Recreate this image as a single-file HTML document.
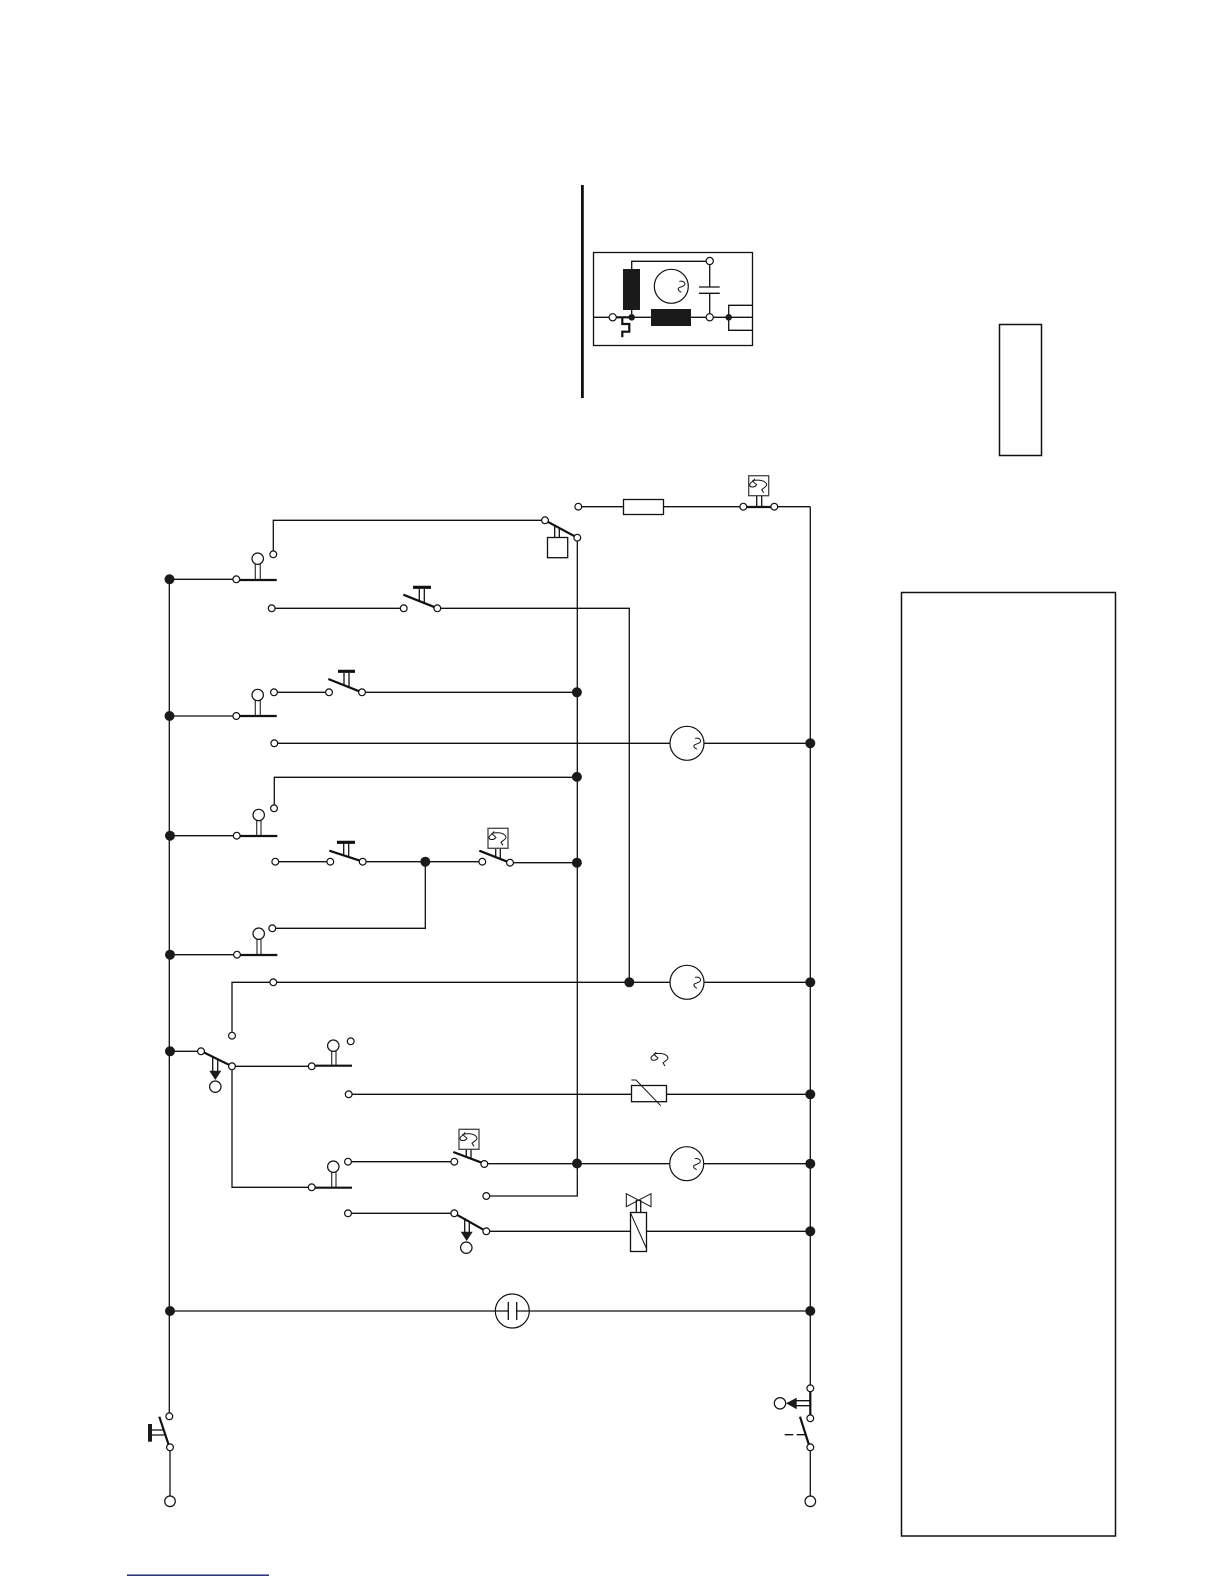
<!DOCTYPE html>
<html>
<head>
<meta charset="utf-8">
<title>Wiring diagram</title>
<style>
html,body{margin:0;padding:0;background:#fff;width:1224px;height:1584px;overflow:hidden}
svg{display:block}
.w{fill:none;stroke:#111;stroke-width:1.3}
.g{fill:none;stroke:#333;stroke-width:1.2}
.t{fill:none;stroke:#111;stroke-width:2.2}
.o{fill:#fff;stroke:#111;stroke-width:1.2}
.d{fill:#1a1a1a;stroke:none}
.k{fill:#1a1a1a;stroke:none}
.s{fill:none;stroke:#111;stroke-width:1}
</style>
</head>
<body>
<svg width="1224" height="1584" viewBox="0 0 1224 1584" xmlns="http://www.w3.org/2000/svg">
<defs>
<path id="sq" d="M8 -5C12 -6 15 -3 13 -1C11 1 6 1 7 3C7 5 9 5 10 6" fill="none" stroke="#111" stroke-width="1"/>
<path id="th" d="M6 3C5 6 1 7 1 9C1 12 6 12 8 9C7 8 5 7 4 5C8 4 14 4 17 7C20 10 15 12 13 14L15 17" fill="none" stroke="#111" stroke-width="1"/>
</defs>

<rect x="999.5" y="324.5" width="42" height="131" fill="none" stroke="#111" stroke-width="1.5"/>
<rect x="901.5" y="592.5" width="214" height="943.5" fill="none" stroke="#111" stroke-width="1.5"/>

<rect x="581" y="185" width="2.8" height="213" fill="#111"/>
<rect x="593.5" y="252.5" width="159" height="93" fill="none" stroke="#111" stroke-width="1.3"/>
<path class="w" d="M593.5 317.3H752.7M631.7 270V261.3H709.7V287M709.7 293.3V317.3M631.7 309V317.3M728.7 317.3V305.3H752.7M728.7 317.3V330.3H752.7"/>
<path class="w" d="M699 287H719.7M699 293.3H719.7"/>
<rect class="k" x="623" y="269" width="17" height="41"/>
<rect class="k" x="651" y="309" width="40" height="17"/>
<circle class="o" cx="671.3" cy="286.3" r="17"/>
<use href="#sq" x="671.3" y="286.3"/>
<path class="t" d="M616.7 317.3H631M622.3 317.3V324H629.3V331.7H622.3V337.3"/>
<circle class="o" cx="709.7" cy="261" r="3.6"/>
<circle class="o" cx="612.7" cy="317.3" r="3.6"/>
<circle class="o" cx="709.7" cy="317.3" r="3.6"/>
<circle class="d" cx="631.7" cy="317.3" r="3.3"/>
<circle class="d" cx="728.7" cy="317.3" r="3.3"/>

<path class="w" d="M169.3 579.3V1416M170 1447V1496M810.3 506.7V1388M810.3 1447V1496M169.3 579.3H236M169.3 716H236M170 835.7H237M170 954.7H237M170 1051.3H201M273.3 554.3V520.3H545M271.7 608.3H403.7M437.3 608.3H629.3V982.3M274 692.3H329M362 692.3H576.7M275 743.3H670M704 743.3H810M577.3 537.7V1196H486.3M274.3 808.3V777.3H576.7M275.3 861.7H330.3M362.7 861.7H482.3M510 862.7H576.7M425.3 861.7V928.3H272.3M232 1035.7V982.3H670M704 982.3H810M232 1066.3H311.7M232 1066.3V1187.3H311.7M348.7 1094.3H631.3M666.7 1094.3H810M348 1161.7H454.3M484.3 1163.7H670M704 1163.7H810M348 1213.3H454.3M486.3 1231.3H630.3M646.3 1231.3H810M170 1311H495M529.5 1311H810M578.3 506.7H623.3M663.7 506.7H743.3M774.3 506.7H810.3"/>

<rect x="623.5" y="499.5" width="40" height="15" fill="#fff" stroke="#111" stroke-width="1.3"/>

<path class="w" d="M756.7 495.7V507M761.7 495.7V507"/>
<rect x="748.7" y="475.7" width="20" height="20" fill="#fff" stroke="#444" stroke-width="1.3"/>
<use href="#th" x="748.7" y="475.7"/>
<path class="t" d="M746 507H771"/>

<path class="w" d="M554.7 526V537.5M559.3 528V537.5"/>
<rect x="547.5" y="537.5" width="20.2" height="20.2" fill="#fff" stroke="#111" stroke-width="1.3"/>
<path class="t" d="M545 520.3L577.3 537.7"/>

<path class="g" d="M255.3 564V580M260.3 564V580"/>
<path class="t" d="M238 580H276.7"/>
<circle class="o" cx="257.7" cy="558.7" r="5.7"/>
<path class="g" d="M255.3 700V716M260.3 700V716"/>
<path class="t" d="M238 716H276.7"/>
<circle class="o" cx="257.7" cy="695" r="5.7"/>
<path class="g" d="M256.7 820.7V836M261 820.7V836"/>
<path class="t" d="M238 836H277.3"/>
<circle class="o" cx="258.7" cy="815" r="5.7"/>
<path class="g" d="M257 939.3V955M261 939.3V955"/>
<path class="t" d="M238 955H277.3"/>
<circle class="o" cx="258.7" cy="933.7" r="5.7"/>
<path class="g" d="M331.7 1051V1066M336 1051V1066"/>
<path class="t" d="M313 1065.7H352"/>
<circle class="o" cx="333.3" cy="1045.7" r="5.7"/>
<path class="g" d="M331.7 1172.3V1187.7M336 1172.3V1187.7"/>
<path class="t" d="M313 1187.7H352"/>
<circle class="o" cx="333.3" cy="1166.7" r="5.7"/>

<path class="w" d="M419.3 589V601M424.3 589V603"/>
<path class="t" d="M403.3 594.7L435 607.3"/>
<path class="t" d="M413 587.3H431" style="stroke-width:3.2"/>
<path class="w" d="M344 672.7V685M349 672.7V687"/>
<path class="t" d="M328.3 679L359.3 691.3"/>
<path class="t" d="M338 671.3H355" style="stroke-width:3.2"/>
<path class="w" d="M343.7 843.3V855M348.7 843.3V857"/>
<path class="t" d="M329.3 850.7L360 860.7"/>
<path class="t" d="M337 842.3H355" style="stroke-width:3.2"/>

<path class="w" d="M495.7 848.3V856M500.3 848.3V858"/>
<rect x="488" y="828.3" width="20" height="20" fill="#fff" stroke="#444" stroke-width="1.3"/>
<use href="#th" x="488" y="828.3"/>
<path class="t" d="M479.3 850.7L507.3 861.7"/>

<path class="w" d="M212.7 1056V1071M217.7 1059V1071"/>
<path class="t" d="M201 1051L232 1066.3"/>
<path class="k" d="M209.3 1070.7H221.3L215.3 1080Z"/>
<circle class="o" cx="215.3" cy="1086.7" r="5.7"/>

<path class="w" d="M466.3 1149.3V1157M471 1149.3V1159"/>
<rect x="459" y="1129.3" width="20" height="20" fill="#fff" stroke="#444" stroke-width="1.3"/>
<use href="#th" x="459" y="1129.3"/>
<path class="t" d="M453.3 1152L483.3 1163.3"/>

<path class="w" d="M464.7 1218V1232M469.3 1221V1232"/>
<path class="t" d="M454.3 1213.3L486.3 1231.3"/>
<path class="k" d="M460.7 1231.7H472.7L466.7 1241Z"/>
<circle class="o" cx="466.3" cy="1247.7" r="5.7"/>

<circle class="o" cx="687" cy="743.3" r="17"/><use href="#sq" x="687" y="743.3"/>
<circle class="o" cx="687" cy="982.3" r="17"/><use href="#sq" x="687" y="982.3"/>
<circle class="o" cx="686.7" cy="1163.7" r="17"/><use href="#sq" x="686.7" y="1163.7"/>

<rect x="631.5" y="1085.5" width="35" height="16.2" fill="#fff" stroke="#111" stroke-width="1.3"/>
<path class="s" d="M631.3 1080H636L660.7 1105.7"/>
<use href="#th" x="650" y="1049"/>

<path class="w" d="M636.3 1200V1212.3M640.7 1200V1212.3"/>
<path class="s" d="M626.3 1193.7V1206.7L651 1193.7V1206.7Z"/>
<rect x="630.5" y="1212.5" width="16" height="39" fill="#fff" stroke="#111" stroke-width="1.3"/>
<path class="s" d="M630.5 1213L646.3 1248"/>

<circle class="o" cx="512.3" cy="1311" r="17"/>
<path class="w" d="M495 1311H508.3M516.7 1311H529.5M508.3 1302V1320M516.7 1302V1320"/>

<rect class="k" x="148" y="1424" width="4" height="17.7"/>
<path class="w" d="M152 1430H163M152 1435H165"/>
<path class="t" d="M159.3 1416.7L168.7 1445"/>

<path class="t" d="M810.3 1392V1415"/>
<path class="w" d="M796 1400.7H810M796 1405.7H810"/>
<path class="k" d="M786 1403.3L796.7 1397.7V1409.3Z"/>
<circle class="o" cx="780" cy="1403.3" r="5.7"/>
<path class="t" d="M800 1416.7L809 1445"/>
<path class="w" d="M784.7 1434.7H793.3M796.7 1434.7H805"/>

<g class="o">
<circle cx="236.3" cy="579.3" r="3.4"/><circle cx="273.3" cy="554.3" r="3.4"/><circle cx="271.7" cy="608.3" r="3.4"/><circle cx="403.7" cy="608.3" r="3.4"/><circle cx="437.3" cy="608.3" r="3.4"/><circle cx="236.3" cy="716" r="3.4"/><circle cx="274" cy="692.3" r="3.4"/><circle cx="329" cy="692.3" r="3.4"/><circle cx="362" cy="692.3" r="3.4"/><circle cx="274.3" cy="743.3" r="3.4"/><circle cx="274" cy="808.3" r="3.4"/><circle cx="236.7" cy="835.7" r="3.4"/><circle cx="275.3" cy="861.7" r="3.4"/><circle cx="330.3" cy="861.7" r="3.4"/><circle cx="362.7" cy="861.7" r="3.4"/><circle cx="482.3" cy="861.7" r="3.4"/><circle cx="510" cy="862.7" r="3.4"/><circle cx="272.3" cy="928.3" r="3.4"/><circle cx="237" cy="954.7" r="3.4"/><circle cx="273.3" cy="982.3" r="3.4"/><circle cx="232" cy="1035.7" r="3.4"/><circle cx="201" cy="1051.3" r="3.4"/><circle cx="232" cy="1066.3" r="3.4"/><circle cx="311.7" cy="1066.3" r="3.4"/><circle cx="350.7" cy="1041.3" r="3.4"/><circle cx="348.7" cy="1094.3" r="3.4"/><circle cx="348" cy="1161.7" r="3.4"/><circle cx="311.7" cy="1187.3" r="3.4"/><circle cx="454.3" cy="1161.7" r="3.4"/><circle cx="484.3" cy="1164" r="3.4"/><circle cx="486.3" cy="1196" r="3.4"/><circle cx="348" cy="1213.3" r="3.4"/><circle cx="454.3" cy="1213.3" r="3.4"/><circle cx="486.3" cy="1231.3" r="3.4"/><circle cx="578.3" cy="506.7" r="3.4"/><circle cx="743.3" cy="506.7" r="3.4"/><circle cx="774.3" cy="506.7" r="3.4"/><circle cx="545" cy="520.3" r="3.4"/><circle cx="577.3" cy="537.7" r="3.4"/><circle cx="169.3" cy="1416.3" r="3.4"/><circle cx="170" cy="1447.3" r="3.4"/><circle cx="810.3" cy="1388.3" r="3.4"/><circle cx="810.3" cy="1418.3" r="3.4"/><circle cx="810.3" cy="1447.3" r="3.4"/><circle cx="170" cy="1501.3" r="5.3"/><circle cx="810.3" cy="1501.3" r="5.3"/>
</g>

<g class="d">
<circle cx="169.5" cy="579.3" r="5"/><circle cx="169.5" cy="716" r="5"/><circle cx="170" cy="835.7" r="5"/><circle cx="170" cy="954.7" r="5"/><circle cx="170" cy="1051.3" r="5"/><circle cx="170" cy="1311" r="5"/><circle cx="576.9" cy="692.3" r="5"/><circle cx="576.9" cy="776.9" r="5"/><circle cx="576.9" cy="862.7" r="5"/><circle cx="577" cy="1163.5" r="5"/><circle cx="425.3" cy="861.7" r="5"/><circle cx="629.3" cy="982.3" r="5"/><circle cx="810.3" cy="743.3" r="5"/><circle cx="810.3" cy="982.3" r="5"/><circle cx="810.3" cy="1094.3" r="5"/><circle cx="810.3" cy="1163.7" r="5"/><circle cx="810.3" cy="1231.3" r="5"/><circle cx="810.3" cy="1311" r="5"/>
</g>

<rect x="127" y="1574.5" width="142" height="1.4" fill="#141f6b"/>
</svg>
</body>
</html>
